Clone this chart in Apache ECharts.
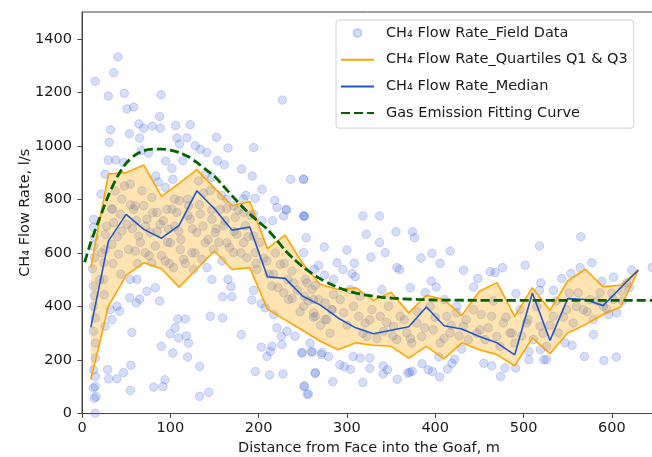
<!DOCTYPE html>
<html>
<head>
<meta charset="utf-8">
<script src="https://cdn.jsdelivr.net/npm/echarts@6/dist/echarts.min.js"></script>
<style>
  html, body { margin: 0; padding: 0; background: #fff; }
  #chart { width: 652px; height: 457px; }
</style>
</head>
<body>
<div id="chart"></div>
<script>
// Bin centres (m) for the quartile and median statistics
const distance = [10, 30, 50, 70, 90, 110, 130, 150, 170, 190, 210, 230, 250, 270, 290, 310,
                  330, 350, 370, 390, 410, 430, 450, 470, 490, 510, 530, 550, 570, 590, 610, 630];
const q3Flow = [545, 895, 900, 928, 811, 860, 911, 843, 776, 792, 616, 666, 560, 482, 463, 470,
                423, 453, 376, 442, 426, 366, 457, 489, 363, 470, 386, 495, 539, 474, 479, 536];
const q1Flow = [126, 401, 516, 563, 541, 472, 540, 607, 538, 545, 390, 350, 310, 270, 238, 264,
                255, 251, 207, 251, 204, 264, 238, 220, 178, 282, 224, 301, 332, 370, 398, 536];
const medianFlow = [322, 645, 744, 688, 655, 703, 832, 765, 685, 697, 511, 505, 438, 405, 357, 320,
                    298, 311, 324, 398, 328, 316, 288, 264, 219, 450, 273, 429, 426, 403, 470, 536];

// Gas emission fitting curve, sampled along the distance axis
const fitDistance = [3, 10, 20, 30, 40, 50, 60, 70, 80, 90, 100, 110, 120, 130, 140, 150, 160, 170,
                     180, 190, 200, 210, 220, 230, 240, 250, 260, 270, 280, 290, 300, 320, 340, 360,
                     380, 400, 450, 500, 550, 600, 650];
const fitFlow = [565, 640, 730, 815, 885, 935, 965, 982, 988, 988, 984, 975, 960, 938, 912, 886, 850, 813,
                 778, 745, 716, 688, 650, 610, 577, 548, 524, 503, 486, 471, 459, 443, 434, 429,
                 426, 424, 423, 423, 423, 423, 423];

// Field measurements: distance (m) and CH4 flow rate (l/s)
const fieldDistance = [
  40.7, 15, 35.8, 29.8, 47.9, 89.4, 226.8, 50.9, 58.5, 87.9, 32.4, 30.9, 64.5, 69.8, 79.6, 88.6, 106, 122.6,
  53.6, 65.3, 107.5, 118.8, 110.5, 152.4, 128.3, 133.9, 141.5, 165.3, 194.3, 67.1, 75.4, 29.8, 38.1, 47.1,
  94.7, 114.3, 153.2, 161.1, 180.7, 192.8, 203.8, 236.2, 250.9, 26, 101.8, 102.9, 86.3, 83.6, 218.1, 231.3,
  251.7, 185.6, 196.2, 21.5, 37.7, 54.7, 67.9, 94.3, 132, 137.7, 145.2, 139.5, 147, 164, 171.6, 182.9,
  34.3, 58.5, 45.2, 79.2, 104.7, 110.3, 119.7, 158.1, 164, 101.8,
  13, 13, 14, 13, 14, 12, 13, 14, 13, 15, 13, 15, 15, 13, 15, 15, 13, 16, 14, 15,
  54.7, 62.2, 73.5, 83, 53.9, 65.3, 61.5, 87.9, 39.6, 32, 42.6, 33.9, 26.3, 56.5, 108.6, 116.9, 105.6, 100,
  109.4, 118, 120.7, 89.8, 102.9, 119.6, 145.2, 159.2, 147, 165.3, 168.7, 159.2, 169.8, 180.3, 192.4, 194.3,
  203, 207.5, 217, 220.8, 225.7, 232.1, 226.4, 215.1, 213.2, 209.4, 203, 196.2, 212.4, 227.6, 249.2, 260.5,
  271.8, 264.3, 251.4, 256.3, 241.2, 258.2, 133.2, 143.4, 133.2, 91.7, 81.2, 94, 54.7, 55.4, 47.1, 39.6,
  30.2, 29,
  220.8, 231.3, 228.3, 251.7, 215.8, 203.8, 194.3,
  26.3, 26.3, 24.5, 24.5, 25.2, 33.9, 35.8, 33.9, 43.4, 45.2, 41.5, 51, 52.9, 60.3, 61.5, 64.1, 60.3, 69.8,
  73.5, 77.3, 71.6, 84.9, 88.6, 83, 79.2, 96.2, 98.1, 100, 94.3, 107.5, 109.4, 111.3, 103.7, 115.1, 120.7,
  122.6, 130.1, 124.5, 126.4, 133.9, 139.6, 141.5, 135.8, 147.1, 150.9, 149, 156.6, 160.3, 164.1, 158.5,
  173.5, 175.4, 171.6, 182.9, 184.8, 182.9, 186.7, 194.3, 196.2, 198.1, 209.4, 217, 215.1, 224.6, 228.4,
  237.8, 239.7, 234, 252.9, 250.9, 260.4, 268, 275.5, 283, 264.3,
  250.9, 318.1, 336.9, 321.9, 355.5, 374.3, 376.6, 253.9, 250.9, 274.3, 300, 336.9, 343.4, 327.2, 396.3,
  417, 383.8, 405.6, 518.1, 564.9, 577.4, 601.8, 622.6, 645.6, 501.9, 519.6, 543.4, 553.6, 588.7, 432,
  448.3, 462.3, 467.9, 476.2, 443.4, 491.3, 518.1, 533.9, 564.1, 288.7, 295.5, 305.7, 308.3, 267.9, 263,
  284.9, 309.4, 339.6, 356.6, 359.7, 371.7, 395.5, 401.1, 388.7, 410.2, 424.5, 252, 274.7, 264.1,
  249, 260, 271, 279, 292, 297, 304, 307, 315, 326, 326, 341, 346, 341, 357, 371, 374, 385, 392, 397, 405,
  414, 419, 422, 430, 404, 455, 464, 474, 479, 491, 506, 523, 526, 506, 519, 547, 555, 569, 591, 605, 579,
  264, 284, 318, 252, 255, 369,
  254.7, 262.3, 262.3, 275.5, 277.4, 284.9, 283, 292.4, 296.2, 303.7, 307.5, 315, 313.2, 320.7, 322.6,
  328.3, 337.7, 341.5, 347.1, 352.7, 356.5, 360.2, 367.8, 373.4, 379.1, 384.7, 394.1, 397.9, 405.5, 413,
  416.8, 424.3, 431.8, 437.5, 443.2, 450.7, 456.4, 463.9, 469.6, 473.4, 477.1, 484.7, 490.3, 496, 503.5,
  511.1, 518.6, 526.2, 533.7, 539.4, 548.8, 556.4, 562, 567.7, 575.3, 579, 586.6, 590.4, 601.7, 605.4,
  611.1, 616.8, 596.5, 250.9,
  20, 22, 28, 35, 40, 44, 48, 55, 57, 63, 66, 72, 76, 80, 85, 90, 92, 97, 99, 105, 112, 117, 120, 125,
  128, 133, 137, 143, 147, 152, 155, 162, 167, 172, 177, 180, 188, 191, 197, 202, 206, 212, 219, 222,
  229, 233, 238, 244, 247, 256, 262, 270, 281,
  300, 318, 326, 334, 345, 352, 365, 372, 380, 388, 400, 410, 418, 427, 435, 447, 452, 460, 466, 480,
  487, 498, 505, 515, 522, 530, 537, 545, 552, 560, 572, 583, 594, 600, 612, 620
];
const fieldFlow = [
  1332, 1241, 1273, 1186, 1196, 1191, 1171, 1138, 1145, 1110, 1060, 1013, 1082, 1066, 1074, 1066, 1076, 1079,
  1045, 1029, 1029, 1030, 1007, 1032, 1000, 987, 975, 992, 994, 982, 973, 947, 947, 938,
  943, 945, 945, 929, 913, 887, 838, 875, 875, 894, 916, 875, 865, 887, 796, 760,
  737, 815, 804, 820, 832, 857, 832, 845, 869, 824, 832, 892, 882, 801, 776, 801,
  765, 763, 801, 807, 801, 795, 801, 814, 766, 763,
  726, 695, 660, 626, 582, 541, 476, 440, 401, 357, 307, 263, 207, 163, 138, 101, 95, 63, 57, 1,
  501, 501, 457, 470, 432, 428, 413, 420, 401, 388, 382, 351, 326, 303, 353, 353, 320, 298,
  282, 290, 263, 251, 226, 211, 363, 357, 501, 501, 474, 436, 436, 295, 424, 460,
  411, 395, 370, 320, 289, 307, 257, 251, 232, 213, 248, 157, 144, 148, 228, 229,
  228, 153, 101, 73, 289, 263, 176, 79, 64, 101, 99, 126, 86, 180, 153, 130,
  130, 164,
  770, 763, 738, 738, 720, 720, 745,
  669, 613, 563, 501, 444, 763, 713, 632, 745, 682, 595, 707, 613, 776, 720, 663, 607, 776,
  726, 676, 601, 751, 707, 626, 563, 763, 688, 638, 570, 751, 682, 613, 545, 576, 776,
  726, 676, 601, 538, 745, 638, 545, 576, 726, 676, 613, 763, 701, 638, 570,
  732, 670, 601, 751, 701, 638, 582, 663, 601, 538, 570, 520, 476, 557, 451,
  532, 488, 426, 501, 401, 463, 426, 351, 388, 363,
  738, 738, 738, 670, 679, 679, 657, 657, 601, 622, 611, 639, 601, 584, 598,
  607, 581, 561, 626, 660, 563, 509, 536, 546, 554, 488, 504, 523, 494, 535,
  504, 530, 527, 545, 473, 448, 460, 460, 545, 563, 538, 523, 561, 553, 538,
  501, 511, 463, 545, 538, 470, 495, 473, 451, 426, 401, 438, 517, 478,
  226, 232, 220, 213, 182, 175, 165, 213, 207, 207, 169, 178, 163, 148, 128, 154, 158, 186, 163, 157, 136,
  166, 188, 203, 241, 211, 188, 178, 138, 170, 170, 201, 201, 201, 232, 239, 264, 255, 213, 198, 211, 295,
  149, 119, 116, 103, 72, 151,
  488, 426, 376, 413, 351, 445, 388, 426, 376, 463, 401, 438, 363, 338, 288,
  388, 363, 307, 401, 326, 276, 363, 301, 263, 338, 288, 401, 313, 263, 363,
  301, 376, 326, 276, 388, 313, 276, 363, 288, 251, 338, 301, 263, 388, 338,
  276, 326, 251, 363, 301, 388, 338, 451, 388, 426, 351, 451, 401, 426, 376,
  457, 488, 370, 876,
  500, 600, 700, 560, 660, 520, 850, 780, 690, 560, 640, 700, 590, 750, 680, 590, 720, 640, 560, 700,
  650, 560, 740, 690, 600, 780, 700, 650, 760, 690, 640, 720, 620, 680, 760, 600, 660, 740, 560, 640,
  580, 520, 600, 470, 560, 500, 430, 460, 380, 420, 360, 330, 300,
  330, 300, 350, 280, 340, 290, 350, 280, 380, 320, 360, 280, 330, 290, 350, 300, 370, 320, 420, 360,
  300, 290, 350, 400, 300, 330, 420, 360, 450, 400, 380, 420, 390, 450, 420, 470
];

// Tick positions shown on each axis
const xTicks = [0, 100, 200, 300, 400, 500, 600];
const yTicks = [0, 200, 400, 600, 800, 1000, 1200, 1400];

const pairs = (xs, ys) => xs.map((x, i) => [x, ys[i]]);
const plain = v => String(v);

const FONT = 'DejaVu Sans';
const TEXT = '#1a1a1a';
const SPINE = '#444';

const NAME_FIELD = 'CH\u2084 Flow Rate_Field Data';
const NAME_QUART = 'CH\u2084 Flow Rate_Quartiles Q1 & Q3';
const NAME_MED = 'CH\u2084 Flow Rate_Median';
const NAME_FIT = 'Gas Emission Fitting Curve';

const chart = echarts.init(document.getElementById('chart'), null, { renderer: 'canvas' });

// line-only legend keys: hide the marker that line series add in the middle
const lineKey = { itemStyle: { opacity: 0 } };

chart.setOption({
  animation: false,
  backgroundColor: '#ffffff',
  textStyle: { fontFamily: FONT },
  grid: {
    left: 82, right: -4, top: 12, bottom: 43.5,
    outerBoundsMode: 'none',
    show: true, borderColor: SPINE, borderWidth: 1, backgroundColor: 'transparent'
  },
  xAxis: {
    type: 'value', min: 0, max: 650,
    name: 'Distance from Face into the Goaf, m',
    nameLocation: 'middle', nameGap: 27, nameMoveOverlap: false,
    nameTextStyle: { fontFamily: FONT, fontSize: 14.5, color: TEXT },
    axisLine: { show: true, lineStyle: { color: SPINE, width: 1 } },
    axisTick: { show: true, length: 4.5, lineStyle: { color: SPINE }, customValues: xTicks },
    axisLabel: { fontFamily: FONT, fontSize: 14.5, color: TEXT, margin: 7.5, customValues: xTicks, formatter: plain },
    splitLine: { show: false }
  },
  yAxis: {
    type: 'value', min: 0, max: 1500,
    name: 'CH\u2084 Flow Rate, l/s',
    nameLocation: 'middle', nameGap: 49, nameMoveOverlap: false,
    nameTextStyle: { fontFamily: FONT, fontSize: 14.5, color: TEXT },
    axisLine: { show: true, lineStyle: { color: SPINE, width: 1 } },
    axisTick: { show: true, length: 4.5, lineStyle: { color: SPINE }, customValues: yTicks },
    axisLabel: { fontFamily: FONT, fontSize: 14.5, color: TEXT, margin: 10, customValues: yTicks, formatter: plain },
    splitLine: { show: false }
  },
  legend: {
    orient: 'vertical',
    left: 336, top: 20,
    padding: [3, 6, 5, 4],
    itemGap: 6.7,
    itemWidth: 33, itemHeight: 8,
    backgroundColor: 'rgba(255,255,255,0.85)',
    borderColor: '#d0d0d0', borderWidth: 1, borderRadius: 3,
    textStyle: { fontFamily: FONT, fontSize: 14.5, color: TEXT, lineHeight: 20, padding: [0, 0, 0, 7] },
    data: [
      { name: NAME_FIELD, icon: 'circle' },
      Object.assign({ name: NAME_QUART }, lineKey),
      Object.assign({ name: NAME_MED }, lineKey),
      Object.assign({ name: NAME_FIT }, lineKey)
    ]
  },
  series: [
    {
      name: NAME_FIELD,
      type: 'scatter',
      z: 2,
      symbol: 'circle',
      symbolSize: 8.5,
      itemStyle: { color: 'rgba(65,105,225,0.28)', borderColor: 'rgba(65,105,225,0.3)', borderWidth: 1 },
      emphasis: { disabled: true },
      data: pairs(fieldDistance, fieldFlow)
    },
    {
      name: 'interquartile band',
      type: 'custom',
      z: 3,
      silent: true,
      data: [[0, 0]],
      renderItem: function (params, api) {
        const upper = distance.map((d, i) => api.coord([d, q3Flow[i]]));
        const lower = distance.map((d, i) => api.coord([d, q1Flow[i]])).reverse();
        return {
          type: 'polygon',
          shape: { points: upper.concat(lower) },
          style: { fill: 'rgba(255,165,0,0.3)', stroke: null }
        };
      }
    },
    {
      name: NAME_QUART,
      type: 'line', z: 4, symbol: 'none',
      lineStyle: { color: '#ffa500', width: 1.6 },
      itemStyle: { color: '#ffa500' },
      emphasis: { disabled: true },
      data: pairs(distance, q3Flow)
    },
    {
      name: NAME_QUART,
      type: 'line', z: 4, symbol: 'none',
      lineStyle: { color: '#ffa500', width: 1.6 },
      itemStyle: { color: '#ffa500' },
      emphasis: { disabled: true },
      data: pairs(distance, q1Flow)
    },
    {
      name: NAME_MED,
      type: 'line', z: 5, symbol: 'none',
      lineStyle: { color: '#1e56d0', width: 1.6 },
      itemStyle: { color: '#1e56d0' },
      emphasis: { disabled: true },
      data: pairs(distance, medianFlow)
    },
    {
      name: NAME_FIT,
      type: 'line', z: 6, symbol: 'none', smooth: 0.25,
      lineStyle: { color: '#006400', width: 2.8, type: [9, 4] },
      itemStyle: { color: '#006400' },
      emphasis: { disabled: true },
      data: pairs(fitDistance, fitFlow)
    }
  ]
});
</script>
</body>
</html>
